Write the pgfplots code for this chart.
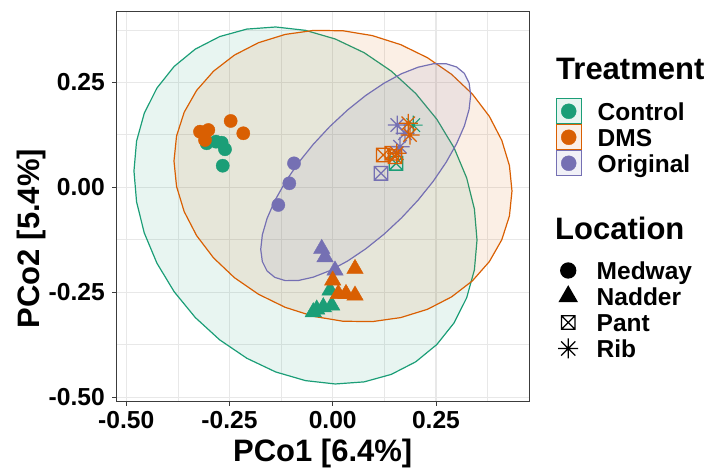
\documentclass[border=0pt]{standalone}
\usepackage{pgfplots}
\pgfplotsset{compat=1.18}
\usepackage{fontspec}
\setmainfont{Liberation Sans}
\definecolor{ctrl}{HTML}{1B9E77}
\definecolor{dms}{HTML}{D95F02}
\definecolor{orig}{HTML}{7570B3}
\definecolor{gridc}{RGB}{232,232,232}
\definecolor{borderc}{RGB}{60,60,60}

\pgfdeclareplotmark{boxx}{%
 \pgfpathrectangle{\pgfpoint{-\pgfplotmarksize}{-\pgfplotmarksize}}{\pgfpoint{2\pgfplotmarksize}{2\pgfplotmarksize}}%
 \pgfpathmoveto{\pgfpoint{-\pgfplotmarksize}{-\pgfplotmarksize}}%
 \pgfpathlineto{\pgfpoint{\pgfplotmarksize}{\pgfplotmarksize}}%
 \pgfpathmoveto{\pgfpoint{-\pgfplotmarksize}{\pgfplotmarksize}}%
 \pgfpathlineto{\pgfpoint{\pgfplotmarksize}{-\pgfplotmarksize}}%
 \pgfusepathqstroke}
\pgfdeclareplotmark{star8}{%
 \pgfpathmoveto{\pgfpoint{0pt}{\pgfplotmarksize}}\pgfpathlineto{\pgfpoint{0pt}{-\pgfplotmarksize}}%
 \pgfpathmoveto{\pgfpoint{\pgfplotmarksize}{0pt}}\pgfpathlineto{\pgfpoint{-\pgfplotmarksize}{0pt}}%
 \pgfpathmoveto{\pgfpointpolar{45}{\pgfplotmarksize}}\pgfpathlineto{\pgfpointpolar{225}{\pgfplotmarksize}}%
 \pgfpathmoveto{\pgfpointpolar{135}{\pgfplotmarksize}}\pgfpathlineto{\pgfpointpolar{315}{\pgfplotmarksize}}%
 \pgfusepathqstroke}

\pgfplotsset{
 trkey/.style={legend image code/.code={\draw[#1, line width=1bp, fill=#1!10] (0bp,-12.5bp) rectangle (25bp,12.5bp); \fill[#1] (12.5bp,0bp) circle (7.5bp);}},
 lockey/.style={legend image code/.code={\path[draw=none, fill=none] (0bp,-12.5bp) rectangle (25bp,12.5bp); \draw[black, line width=1.3bp, only marks, #1] plot coordinates {(12.5bp,0bp)};}},
 mylegend/.style={legend cell align=left, legend style={at={#1}, anchor=north west, draw=none, fill=none, inner sep=0pt, outer sep=0pt, row sep=0pt, column sep=16bp, nodes={inner sep=0pt, text height=21.75bp, text depth=4.25bp, font=\fontsize{24.5bp}{28bp}\selectfont\bfseries}}},
 base/.style={at={(116bp,66.3bp)}, anchor=south west, scale only axis, width=413.3bp, height=390.7bp},
}

\begin{document}
\begin{tikzpicture}
\useasboundingbox (0,0) rectangle (712bp,468bp);
\begin{axis}[base,
 xmin=-0.5247, xmax=0.476, ymin=-0.5105, ymax=0.4198,
 xtick={-0.5,-0.25,0,0.25}, xticklabels={-0.50,-0.25,0.00,0.25},
 ytick={-0.5,-0.25,0,0.25}, yticklabels={-0.50,-0.25,0.00,0.25},
 minor xtick={-0.375,-0.125,0.125,0.375}, minor ytick={-0.375,-0.125,0.125,0.375},
 grid=both, major grid style={gridc, line width=1.1bp}, minor grid style={gridc, line width=0.6bp},
 tick align=outside, major tick length=4bp, minor tick length=0pt,
 xtick pos=bottom, ytick pos=left,
 tick style={borderc, line width=0.9bp},
 axis line style={borderc, line width=0.9bp},
 ticklabel style={font=\fontsize{24.6bp}{28bp}\selectfont\bfseries, text=black, inner sep=0pt},
 xticklabel style={anchor=north, yshift=-5.5bp},
 yticklabel style={anchor=east, xshift=-7bp},
 mylegend={(1.0639,0.7766)},
]
% ellipses
\addplot[draw=ctrl, fill=ctrl, fill opacity=0.1, line width=1.2bp, forget plot] coordinates {
(0.3494,-0.1254) (0.3431,-0.0518) (0.3244,0.0222) (0.2938,0.0941) (0.2522,0.1619) (0.2011,0.2233)
(0.1418,0.2767) (0.0761,0.3205) (0.0062,0.3531) (-0.0659,0.3737) (-0.1380,0.3817) (-0.2079,0.3767)
(-0.2736,0.3589) (-0.3329,0.3289) (-0.3840,0.2877) (-0.4256,0.2363) (-0.4562,0.1764) (-0.4749,0.1100)
(-0.4812,0.0388) (-0.4749,-0.0348) (-0.4562,-0.1088) (-0.4256,-0.1807) (-0.3840,-0.2485) (-0.3329,-0.3099)
(-0.2736,-0.3633) (-0.2079,-0.4071) (-0.1380,-0.4397) (-0.0659,-0.4603) (0.0062,-0.4683) (0.0761,-0.4633)
(0.1418,-0.4455) (0.2011,-0.4155) (0.2522,-0.3743) (0.2938,-0.3229) (0.3244,-0.2630) (0.3431,-0.1966)
(0.3494,-0.1254)} -- cycle;
\addplot[draw=dms, fill=dms, fill opacity=0.1, line width=1.2bp, forget plot] coordinates {
(0.4341,-0.0088) (0.4279,0.0517) (0.4094,0.1117) (0.3793,0.1689) (0.3383,0.2219) (0.2879,0.2689)
(0.2295,0.3085) (0.1648,0.3396) (0.0959,0.3612) (0.0249,0.3727) (-0.0461,0.3736) (-0.1150,0.3640)
(-0.1797,0.3443) (-0.2381,0.3147) (-0.2885,0.2765) (-0.3295,0.2307) (-0.3596,0.1787) (-0.3781,0.1221)
(-0.3843,0.0626) (-0.3781,0.0021) (-0.3596,-0.0579) (-0.3295,-0.1151) (-0.2885,-0.1681) (-0.2381,-0.2151)
(-0.1797,-0.2547) (-0.1150,-0.2858) (-0.0461,-0.3074) (0.0249,-0.3189) (0.0959,-0.3198) (0.1648,-0.3102)
(0.2295,-0.2905) (0.2879,-0.2609) (0.3383,-0.2227) (0.3793,-0.1769) (0.4094,-0.1249) (0.4279,-0.0683)
(0.4341,-0.0088)} -- cycle;
\addplot[draw=orig, fill=orig, fill opacity=0.1, line width=1.2bp, forget plot] coordinates {
(0.3341,0.2198) (0.3302,0.2487) (0.3188,0.2712) (0.3000,0.2865) (0.2746,0.2942) (0.2433,0.2940)
(0.2070,0.2860) (0.1668,0.2705) (0.1240,0.2477) (0.0799,0.2186) (0.0358,0.1839) (-0.0070,0.1447)
(-0.0472,0.1022) (-0.0835,0.0578) (-0.1148,0.0126) (-0.1402,-0.0319) (-0.1590,-0.0742) (-0.1704,-0.1133)
(-0.1743,-0.1478) (-0.1704,-0.1767) (-0.1590,-0.1992) (-0.1402,-0.2145) (-0.1148,-0.2222) (-0.0835,-0.2220)
(-0.0472,-0.2140) (-0.0070,-0.1985) (0.0358,-0.1757) (0.0799,-0.1466) (0.1240,-0.1119) (0.1668,-0.0727)
(0.2070,-0.0302) (0.2433,0.0142) (0.2746,0.0594) (0.3000,0.1039) (0.3188,0.1462) (0.3302,0.1853)
(0.3341,0.2198)} -- cycle;
% Medway
\addplot[only marks, mark=*, mark size=6.6bp, color=ctrl, forget plot] coordinates {(-0.3051,0.1048) (-0.2826,0.1086) (-0.2688,0.1062) (-0.2608,0.0905) (-0.2663,0.0514)};
\addplot[only marks, mark=*, mark size=6.6bp, color=orig, forget plot] coordinates {(-0.0937,0.0571) (-0.1051,0.0095) (-0.1317,-0.0421)};
\addplot[only marks, mark=*, mark size=6.6bp, color=dms, forget plot] coordinates {(-0.3213,0.1324) (-0.3012,0.1364) (-0.3092,0.1126) (-0.2470,0.1579) (-0.2165,0.1286)};
% Nadder
\addplot[only marks, mark=triangle*, mark size=9.5bp, color=ctrl, forget plot] coordinates {(-0.0065,-0.2455) (-0.0387,-0.2907) (-0.0228,-0.2852) (-0.0024,-0.2812) (-0.0470,-0.2971)};
\addplot[only marks, mark=triangle*, mark size=9.5bp, color=orig, forget plot] coordinates {(-0.0266,-0.1464) (-0.0186,-0.1662) (0.0056,-0.1979)};
\addplot[only marks, mark=triangle*, mark size=9.5bp, color=dms, forget plot] coordinates {(0.0540,-0.1940) (0.0000,-0.2217) (0.0136,-0.2536) (0.0322,-0.2536) (0.0540,-0.2574)};
% Pant
\addplot[only marks, mark=boxx, mark size=6.8bp, color=ctrl, mark options={line width=1.3bp}, forget plot] coordinates {(0.1533,0.0571)};
\addplot[only marks, mark=boxx, mark size=6.8bp, color=orig, mark options={line width=1.3bp}, forget plot] coordinates {(0.1169,0.0333)};
\addplot[only marks, mark=boxx, mark size=6.8bp, color=dms, mark options={line width=1.3bp}, forget plot] coordinates {(0.1225,0.0769) (0.1429,0.0810) (0.1508,0.0729)};
% Rib
\addplot[only marks, mark=star8, mark size=9.5bp, color=ctrl, mark options={line width=1.2bp}, forget plot] coordinates {(0.1950,0.1480)};
\addplot[only marks, mark=star8, mark size=9.5bp, color=orig, mark options={line width=1.2bp}, forget plot] coordinates {(0.1564,0.1483) (0.1751,0.1286) (0.1630,0.0967)};
\addplot[only marks, mark=star8, mark size=9.5bp, color=dms, mark options={line width=1.2bp}, forget plot] coordinates {(0.1831,0.1524) (0.1872,0.1245) (0.1550,0.0810)};
% legend (Treatment)
\addlegendimage{trkey=ctrl}\addlegendentry{Control}
\addlegendimage{trkey=dms}\addlegendentry{DMS}
\addlegendimage{trkey=orig}\addlegendentry{Original}
\end{axis}
\begin{axis}[base, xmin=0, xmax=1, ymin=0, ymax=1, hide axis, mylegend={(1.0639,0.3691)}]
\addlegendimage{lockey={mark=*, mark size=7.5bp}}\addlegendentry{Medway}
\addlegendimage{lockey={mark=triangle*, mark size=10bp}}\addlegendentry{Nadder}
\addlegendimage{lockey={mark=boxx, mark size=6.8bp}}\addlegendentry{Pant}
\addlegendimage{lockey={mark=star8, mark size=10bp}}\addlegendentry{Rib}
\end{axis}
\node[font=\fontsize{31bp}{36bp}\selectfont\bfseries, anchor=base, inner sep=0pt] at (322.7bp,6.3bp) {PCo1 [6.4\%]};
\node[font=\fontsize{31bp}{36bp}\selectfont\bfseries, rotate=90, inner sep=0pt] at (31bp,229.5bp) {PCo2 [5.4\%]};
\node[font=\fontsize{31bp}{36bp}\selectfont\bfseries, anchor=base west, inner sep=0pt] at (556bp,388bp) {Treatment};
\node[font=\fontsize{31bp}{36bp}\selectfont\bfseries, anchor=base west, inner sep=0pt] at (555bp,228bp) {Location};
\end{tikzpicture}
\end{document}
